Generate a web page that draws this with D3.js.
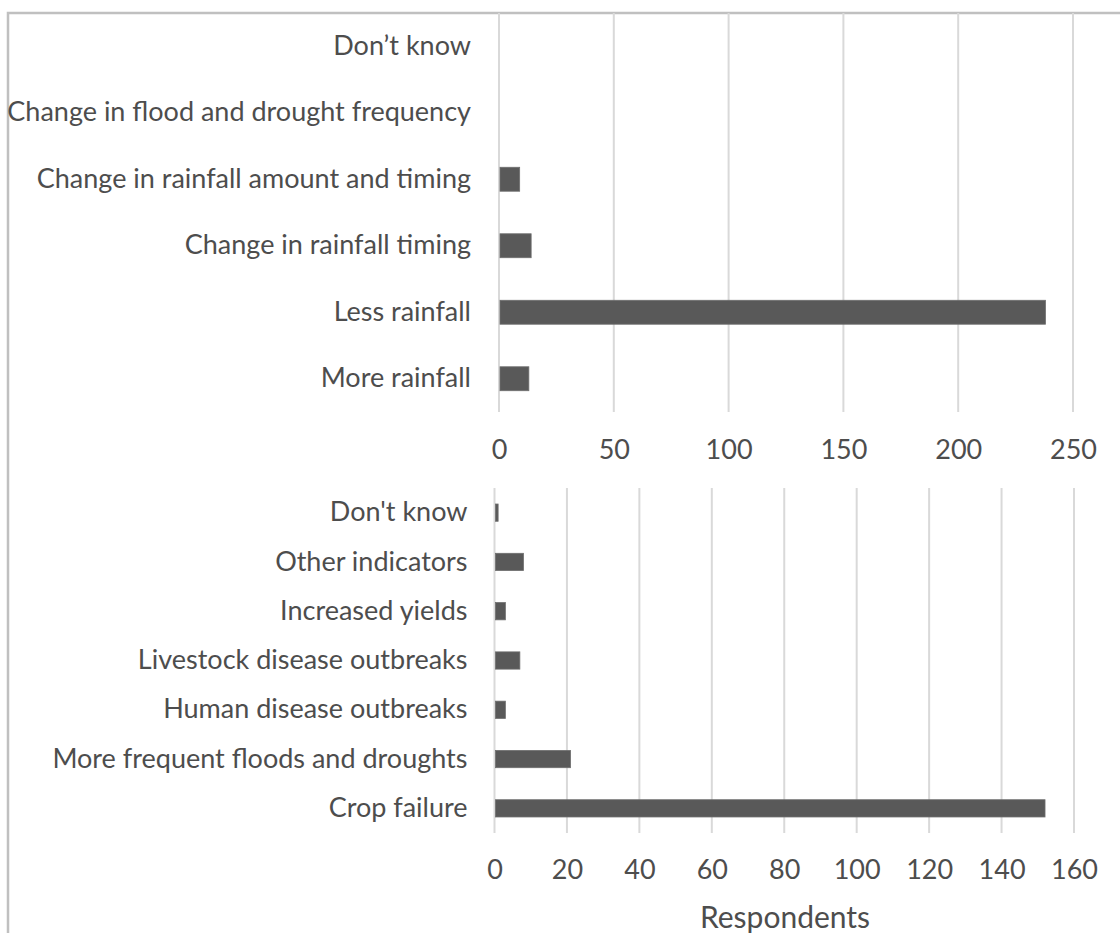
<!DOCTYPE html>
<html>
<head>
<meta charset="utf-8">
<script src="https://cdn.jsdelivr.net/npm/d3@7/dist/d3.min.js"></script>
<style>
  html, body { margin: 0; padding: 0; background: #fff; }
  svg { display: block; }
  .lbl text { font-family: Lato, "Open Sans", sans-serif; fill: #4d4d4d; }
</style>
</head>
<body>
<svg id="chart" width="1120" height="933"></svg>
<script>
// Perceived changes in rainfall (top panel)
const rainCategories = [
  "Don\u2019t know",
  "Change in flood and drought frequency",
  "Change in rainfall amount and timing",
  "Change in rainfall timing",
  "Less rainfall",
  "More rainfall"
];
const rainValues = [0, 0, 9, 14, 238, 13];
const rainTicks = [0, 50, 100, 150, 200, 250];

// Observed indicators of change (bottom panel)
const indicatorCategories = [
  "Don't know",
  "Other indicators",
  "Increased yields",
  "Livestock disease outbreaks",
  "Human disease outbreaks",
  "More frequent floods and droughts",
  "Crop failure"
];
const indicatorValues = [1, 8, 3, 7, 3, 21, 152];
const indicatorTicks = [0, 20, 40, 60, 80, 100, 120, 140, 160];

const axisTitle = "Respondents";

const svg = d3.select("#chart");
const barColor = "#595959";
const gridColor = "#d9d9d9";
const textColor = "#4d4d4d";
const fontFamily = "Lato, 'Open Sans', sans-serif";

// outer frame (open on the right and bottom edges)
svg.append("path")
  .attr("d", "M8,933 L8,13 L1120,13")
  .attr("fill", "none")
  .attr("stroke", "#c0c0c0")
  .attr("stroke-width", 2.5);

function panel(cfg) {
  const x = d3.scaleLinear().domain(cfg.domain).range([cfg.x0, cfg.x1]);
  const y = d3.scaleBand()
    .domain(cfg.categories)
    .range([cfg.y0, cfg.y1])
    .paddingInner(cfg.pad)
    .paddingOuter(cfg.pad / 2);

  const g = svg.append("g");

  // vertical gridlines
  g.append("g").selectAll("line")
    .data(cfg.ticks)
    .join("line")
    .attr("x1", d => x(d)).attr("x2", d => x(d))
    .attr("y1", cfg.y0).attr("y2", cfg.y1)
    .attr("stroke", gridColor)
    .attr("stroke-width", 2);

  // bars
  g.append("g").selectAll("rect")
    .data(cfg.categories.map((c, i) => ({ c, v: cfg.values[i] })))
    .join("rect")
    .attr("x", x(0) + 1)
    .attr("y", d => y(d.c))
    .attr("width", d => Math.max(0, x(d.v) - x(0) - 1))
    .attr("height", y.bandwidth())
    .attr("fill", barColor)
    .attr("stroke", d => d.v > 0 ? "#6e6e6e" : "none")
    .attr("stroke-width", 0.8);

  // category labels
  const yAxis = g.append("g")
    .attr("class", "lbl")
    .attr("transform", `translate(${x(0)},0)`)
    .call(d3.axisLeft(y).tickSize(0).tickPadding(cfg.labelPad));
  yAxis.select(".domain").remove();
  yAxis.selectAll("text")
    .attr("font-size", cfg.fontSize)
    .attr("fill", textColor);

  // value axis labels
  const xAxis = g.append("g")
    .attr("class", "lbl")
    .attr("transform", `translate(0,${cfg.y1})`)
    .call(d3.axisBottom(x).tickValues(cfg.ticks).tickSize(0).tickPadding(cfg.tickPad).tickFormat(d3.format("d")));
  xAxis.select(".domain").remove();
  xAxis.selectAll("text")
    .attr("font-size", cfg.fontSize)
    .attr("fill", textColor);
  return { x, y };
}

panel({
  categories: rainCategories,
  values: rainValues,
  ticks: rainTicks,
  domain: [0, 250],
  x0: 499, x1: 1073,
  y0: 13, y1: 412,
  pad: 0.64,
  labelPad: 28,
  tickPad: 28,
  fontSize: 27
});

panel({
  categories: indicatorCategories,
  values: indicatorValues,
  ticks: indicatorTicks,
  domain: [0, 160],
  x0: 494.5, x1: 1074,
  y0: 488, y1: 833,
  pad: 0.65,
  labelPad: 27,
  tickPad: 27,
  fontSize: 27
});

svg.append("text")
  .attr("x", 785)
  .attr("y", 928)
  .attr("text-anchor", "middle")
  .attr("font-family", fontFamily)
  .attr("font-size", 30)
  .attr("fill", textColor)
  .text(axisTitle);
</script>
</body>
</html>
